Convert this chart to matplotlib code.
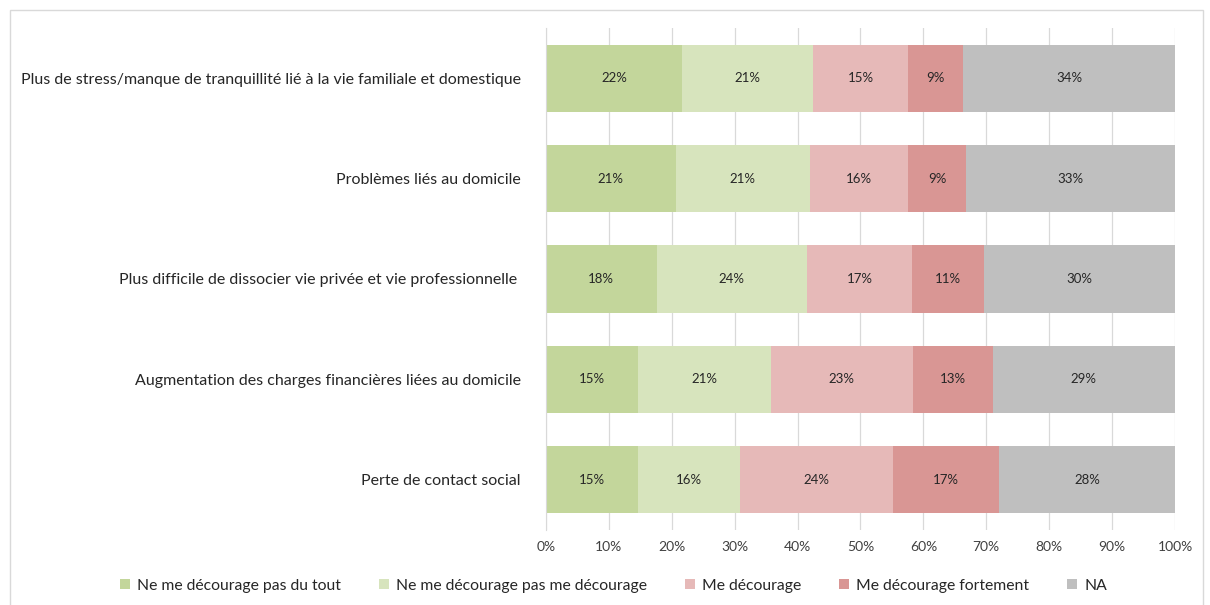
import matplotlib.pyplot as plt
from matplotlib.patches import Rectangle

plt.rcParams['font.family'] = ['Lato', 'DejaVu Sans']

# Data (share of respondents, %)
categories = [
    "Plus de stress/manque de tranquillité lié à la vie familiale et domestique",
    "Problèmes liés au domicile",
    "Plus difficile de dissocier vie privée et vie professionnelle ",
    "Augmentation des charges financières liées au domicile",
    "Perte de contact social",
]
series_names = [
    "Ne me décourage pas du tout",
    "Ne me décourage pas me décourage",
    "Me décourage",
    "Me décourage fortement",
    "NA",
]
pas_du_tout = [21.6, 20.6, 17.6, 14.6, 14.6]
pas_me_decourage = [20.8, 21.4, 23.9, 21.1, 16.3]
me_decourage = [15.2, 15.6, 16.7, 22.6, 24.2]
fortement = [8.7, 9.2, 11.4, 12.7, 16.9]
na = [33.7, 33.2, 30.4, 29.0, 28.0]
colors = ['#c3d69b', '#d7e4bd', '#e6b9b8', '#d99694', '#bfbfbf']

series = [pas_du_tout, pas_me_decourage, me_decourage, fortement, na]

fig = plt.figure(figsize=(12.1, 6.05), dpi=100)
# outer frame like the exported chart area
fig.patches.append(Rectangle((0.008, -0.01), 0.986, 0.993, transform=fig.transFigure,
                             fill=False, edgecolor='#d9d9d9', linewidth=1))
ax = fig.add_axes([0.4512, 0.124, 0.5199, 0.8297])

ypos = list(range(len(categories)))
left = [0.0] * len(categories)
for name, vals, col in zip(series_names, series, colors):
    bars = ax.barh(ypos, vals, left=left, height=0.67, color=col, label=name, zorder=2)
    ax.bar_label(bars, labels=[f"{v:.0f}%" for v in vals], label_type='center',
                 fontsize=9.5, color='#262626')
    left = [l + v for l, v in zip(left, vals)]

ax.set_xlim(0, 100)
ax.set_ylim(len(categories) - 0.5, -0.5)
ax.set_yticks(ypos)
ax.set_yticklabels(categories, fontsize=11.5, color='#262626')
ax.set_xticks(range(0, 101, 10))
ax.set_xticklabels([f"{t}%" for t in range(0, 101, 10)], fontsize=10, color='#404040')
ax.tick_params(axis='y', length=0, pad=18)
ax.tick_params(axis='x', length=0, pad=8)
ax.grid(axis='x', color='#d9d9d9', linewidth=0.9, zorder=0)
for s in ['top', 'right', 'bottom']:
    ax.spines[s].set_visible(False)
ax.spines['left'].set_color('#d9d9d9')

fig.legend(loc='center', bbox_to_anchor=(0.507, 0.032), ncol=5, frameon=False,
           fontsize=11.3, handlelength=0.65, handleheight=0.65, handletextpad=0.45,
           columnspacing=2.4, labelcolor='#262626')

fig.savefig('out.png', dpi=100)
